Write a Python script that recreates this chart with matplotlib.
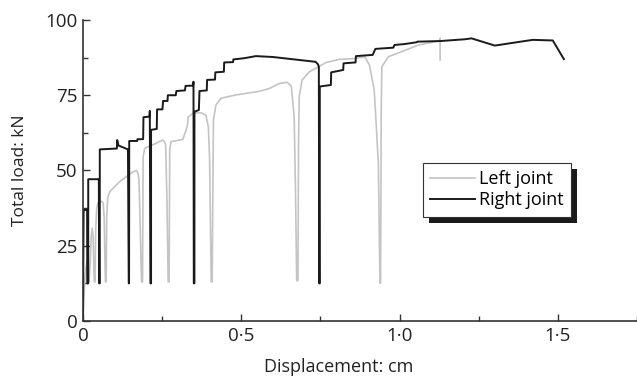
import numpy as np
import matplotlib
matplotlib.use("Agg")
import matplotlib.pyplot as plt
from matplotlib.patches import Rectangle

plt.rcParams['font.family'] = ['Open Sans', 'DejaVu Sans']

# displacement (cm) / total load (kN)
left_x = [0, 0.003, 0.006, 0.010, 0.013, 0.016, 0.019, 0.023, 0.026, 0.029, 0.032, 0.034,
          0.036, 0.038, 0.040, 0.043, 0.047, 0.058, 0.064, 0.067, 0.069, 0.071, 0.073, 0.075,
          0.078, 0.085, 0.116, 0.158, 0.169, 0.174, 0.177, 0.181, 0.185, 0.188, 0.190, 0.195,
          0.220, 0.252, 0.258, 0.261, 0.265, 0.269, 0.272, 0.274, 0.278, 0.315, 0.324, 0.330,
          0.332, 0.347, 0.372, 0.388, 0.396, 0.400, 0.405, 0.408, 0.412, 0.420, 0.436, 0.483,
          0.557, 0.588, 0.620, 0.645, 0.658, 0.667, 0.671, 0.675, 0.679, 0.681, 0.683, 0.692,
          0.715, 0.745, 0.766, 0.808, 0.860, 0.890, 0.905, 0.920, 0.933, 0.938, 0.940, 0.942,
          0.944, 0.965, 1.007, 1.060, 1.112, 1.126, 1.128, 1.128]
left_y = [0, 8, 14, 18, 20, 14, 13, 20, 28, 30.8, 28, 18,
          13, 13, 30, 37, 39.2, 39.8, 39.2, 34, 22, 13, 13, 35,
          41, 43, 46.3, 49.6, 50.0, 49, 46.8, 30, 13, 13, 54.6, 57.4,
          58.5, 60.1, 59.5, 58.5, 41.3, 13, 13, 57, 59.6, 60.3, 62.9, 65.1,
          67.7, 69.0, 69.2, 68.4, 64.5, 53.5, 13, 13, 66.8, 71.8, 74.0, 75.1,
          76.3, 77.2, 78.9, 79.3, 78, 68, 45, 13.4, 13.4, 60, 74.5, 80,
          82.8, 84.5, 85.8, 86.9, 87.2, 87.8, 85, 76.7, 52.4, 12.6, 12.6, 70.1,
          84.5, 87.8, 89.5, 91.7, 92.8, 93.2, 94, 86.7]

right_x = [0, 0.001, 0.002, 0.013, 0.0135, 0.0165, 0.0165, 0.050, 0.051, 0.053, 0.053, 0.107,
           0.108, 0.112, 0.142, 0.1445, 0.1455, 0.146, 0.171, 0.172, 0.190, 0.191, 0.210, 0.211,
           0.213, 0.215, 0.215, 0.233, 0.234, 0.251, 0.253, 0.267, 0.268, 0.293, 0.295, 0.322,
           0.324, 0.348, 0.349, 0.350, 0.352, 0.352, 0.366, 0.368, 0.391, 0.392, 0.417, 0.418,
           0.445, 0.446, 0.474, 0.475, 0.509, 0.546, 0.600, 0.735, 0.742, 0.745, 0.746, 0.748,
           0.748, 0.783, 0.784, 0.822, 0.823, 0.861, 0.862, 0.915, 0.9236, 0.980, 0.984, 1.015,
           1.054, 1.056, 1.128, 1.207, 1.227, 1.301, 1.395, 1.421, 1.484, 1.519]
right_y = [0, 20, 36.9, 36.9, 12.5, 12.5, 47.1, 47.1, 12.5, 12.5, 57.0, 57.3,
           60.1, 58.3, 57.0, 12.5, 12.5, 59.8, 59.8, 60.4, 60.4, 67.7, 67.9, 69.8,
           12.5, 12.5, 63.5, 63.8, 70.3, 70.3, 73.1, 73.1, 75.0, 75.0, 76.4, 76.6,
           78.1, 78.2, 79.5, 12.5, 12.5, 69.5, 70.1, 76.4, 76.6, 80.1, 80.2, 82.6,
           82.8, 85.9, 86.0, 86.9, 87.3, 88.0, 87.7, 86.1, 85.3, 84.5, 12.5, 12.5,
           77.9, 78.4, 82.6, 83.4, 85.6, 85.9, 88.0, 88.4, 90.4, 90.8, 91.7, 92.0,
           92.6, 92.8, 93.0, 93.6, 93.9, 91.5, 93.0, 93.4, 93.2, 87.0]

x_ticks = [0, 0.5, 1.0, 1.5]
x_tick_labels = ['0', '0·5', '1·0', '1·5']
y_ticks = [0, 25, 50, 75, 100]

fig = plt.figure(figsize=(6.37, 3.80), dpi=100)
ax = fig.add_axes([0.1303, 0.1553, 0.8697, 0.7921])

ax.plot(left_x, left_y, color='#c4c4c4', lw=1.2, label='Left joint')
ax.plot(right_x, right_y, color='#1a1a1a', lw=1.4, label='Right joint')

ax.set_xlim(0, 1.75)
ax.set_ylim(0, 100)
ax.set_xticks(x_ticks)
ax.set_xticklabels(x_tick_labels)
ax.set_xticks([0.25, 0.75, 1.25, 1.75], minor=True)
ax.set_yticks(y_ticks)
ax.set_yticks([12.5, 37.5, 62.5, 87.5], minor=True)
ax.tick_params(which='both', direction='in', colors='#333333', labelcolor='#222222',
               labelsize=13.5, width=1.0)
ax.tick_params(which='major', length=5, pad=4)
ax.tick_params(which='minor', length=3.5)

for s in ['top', 'right']:
    ax.spines[s].set_visible(False)
for s in ['left', 'bottom']:
    ax.spines[s].set_color('#333333')
    ax.spines[s].set_linewidth(1.2)

ax.set_ylabel('Total load: kN', fontsize=12.5, color='#222222')
ax.set_xlabel('Displacement: cm', fontsize=13, color='#222222')
ax.yaxis.set_label_coords(-0.100, 0.5)
ax.xaxis.set_label_coords(0.462, -0.122)

leg = ax.legend(loc='upper left', bbox_to_anchor=(0.613, 0.526), borderaxespad=0,
                fontsize=13, fancybox=False, frameon=True, framealpha=1,
                handlelength=2.5, handletextpad=0.22, labelspacing=0.2, borderpad=0.4)
leg.get_frame().set_edgecolor('#333333')
leg.get_frame().set_linewidth(0.8)
leg.set_zorder(6)

# solid offset shadow behind the legend box
fig.canvas.draw()
bb = leg.get_window_extent()
inv = fig.transFigure.inverted()
(x0, y0), (x1, y1) = inv.transform([[bb.x0 + 6, bb.y0 - 6], [bb.x1 + 6, bb.y1 - 6]])
ax.add_patch(Rectangle((x0, y0), x1 - x0, y1 - y0, transform=fig.transFigure,
                       facecolor='#1a1a1a', edgecolor='none', zorder=5.5, clip_on=False))

fig.savefig('out.png', dpi=100)
